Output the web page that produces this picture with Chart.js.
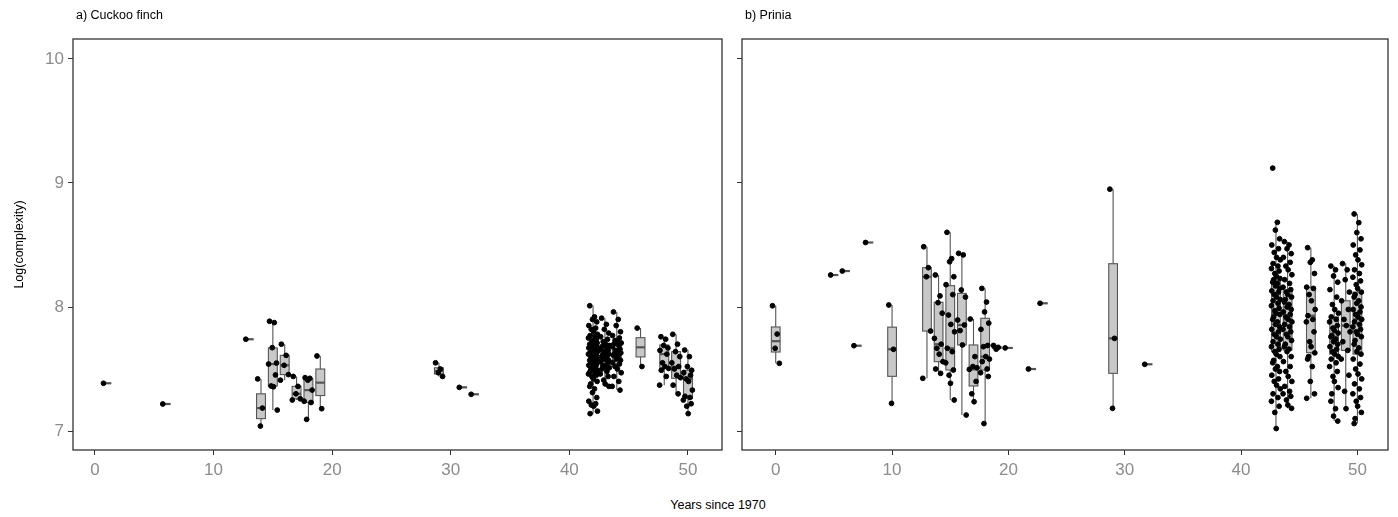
<!DOCTYPE html>
<html>
<head>
<meta charset="utf-8">
<script src="https://cdn.jsdelivr.net/npm/chart.js@4.4.1/dist/chart.umd.min.js"></script>
<style>
  body{margin:0;background:#fff;font-family:"Liberation Sans",Arial,sans-serif;}
  #wrap{position:relative;width:1398px;height:517px;}
  canvas{position:absolute;top:0;}
  .ptitle{position:absolute;top:8px;font-size:12.5px;color:#000;}
  #xtitle{position:absolute;top:498px;left:0;width:1436px;text-align:center;font-size:12.5px;color:#000;}
</style>
</head>
<body>
<div id="wrap">
  <canvas id="left" width="730" height="490" style="left:0"></canvas>
  <canvas id="right" width="676" height="490" style="left:722px"></canvas>
  <div class="ptitle" style="left:76px">a) Cuckoo finch</div>
  <div class="ptitle" style="left:745px">b) Prinia</div>
  <div id="xtitle">Years since 1970</div>
</div>
<script>
// ---- data: log(complexity) by years since 1970 ----
const Y_TICKS = [7, 8, 9, 10];
const X_TICKS = [0, 10, 20, 30, 40, 50];

// a) Cuckoo finch
const cfYears = [1, 6, 13, 14, 15, 16, 17, 18, 19, 29, 31, 32, 42, 43, 44, 46, 48, 49, 50];
const cfQ1  = [7.385, 7.218, 7.74, 7.10, 7.363, 7.455, 7.26, 7.23, 7.286, 7.46, 7.352, 7.296, 7.47, 7.50, 7.54, 7.5975, 7.505, 7.425, 7.263];
const cfMed = [7.385, 7.218, 7.74, 7.185, 7.54, 7.53, 7.30, 7.33, 7.39, 7.485, 7.352, 7.296, 7.57, 7.60, 7.63, 7.675, 7.62, 7.52, 7.42];
const cfQ3  = [7.385, 7.218, 7.74, 7.30, 7.67, 7.61, 7.36, 7.42, 7.50, 7.51, 7.352, 7.296, 7.68, 7.68, 7.71, 7.7525, 7.694, 7.64, 7.49];
const cfLo  = [7.385, 7.218, 7.74, 7.04, 7.17, 7.41, 7.25, 7.094, 7.18, 7.44, 7.352, 7.296, 7.14, 7.36, 7.33, 7.52, 7.37, 7.30, 7.137];
const cfHi  = [7.385, 7.218, 7.74, 7.42, 7.885, 7.70, 7.44, 7.43, 7.605, 7.55, 7.352, 7.296, 8.01, 7.91, 7.96, 7.83, 7.76, 7.78, 7.653];
const cfPoints = [
  [7.385], [7.218], [7.74],
  [7.42, 7.185, 7.04],
  [7.885, 7.874, 7.672, 7.548, 7.54, 7.452, 7.363, 7.357, 7.169],
  [7.70, 7.61, 7.53, 7.455, 7.41],
  [7.44, 7.36, 7.30, 7.26, 7.25],
  [7.43, 7.425, 7.41, 7.33, 7.24, 7.23, 7.094],
  [7.605, 7.18],
  [7.55, 7.50, 7.47, 7.44],
  [7.352], [7.296],
  [8.01, 7.92, 7.90, 7.88, 7.85, 7.83, 7.82, 7.80, 7.78, 7.77, 7.76, 7.75, 7.74, 7.73, 7.72, 7.71, 7.70, 7.70, 7.69, 7.68,
   7.68, 7.67, 7.66, 7.66, 7.65, 7.64, 7.63, 7.62, 7.62, 7.61, 7.60, 7.59, 7.58, 7.58, 7.57, 7.56, 7.55, 7.54, 7.53, 7.52,
   7.51, 7.50, 7.49, 7.48, 7.47, 7.46, 7.45, 7.44, 7.42, 7.40, 7.38, 7.36, 7.34, 7.31, 7.27, 7.24, 7.22, 7.21, 7.20, 7.16, 7.14],
  [7.91, 7.86, 7.82, 7.79, 7.76, 7.74, 7.72, 7.70, 7.69, 7.68, 7.67, 7.66, 7.65, 7.64, 7.63, 7.62, 7.61, 7.60, 7.59, 7.58,
   7.57, 7.56, 7.55, 7.53, 7.52, 7.51, 7.50, 7.48, 7.46, 7.44, 7.41, 7.38, 7.36],
  [7.96, 7.90, 7.85, 7.80, 7.77, 7.75, 7.73, 7.72, 7.71, 7.70, 7.69, 7.68, 7.66, 7.65, 7.64, 7.63, 7.62, 7.61, 7.60, 7.58,
   7.57, 7.55, 7.54, 7.52, 7.50, 7.47, 7.44, 7.40, 7.36, 7.33],
  [7.83, 7.52],
  [7.76, 7.74, 7.69, 7.67, 7.65, 7.62, 7.55, 7.52, 7.505, 7.49, 7.44, 7.37],
  [7.78, 7.70, 7.64, 7.60, 7.55, 7.52, 7.50, 7.45, 7.43, 7.37, 7.30],
  [7.653, 7.60, 7.52, 7.49, 7.47, 7.45, 7.42, 7.40, 7.33, 7.28, 7.27, 7.25, 7.22, 7.20, 7.14]
];

// b) Prinia
const prYears = [0, 5, 6, 7, 8, 10, 13, 14, 15, 16, 17, 18, 19, 20, 22, 23, 29, 32, 43, 44, 46, 48, 49, 50];
const prQ1  = [7.637, 8.258, 8.29, 7.688, 8.52, 7.441, 7.806, 7.559, 7.492, 7.694, 7.363, 7.492, 7.665, 7.67, 7.50, 8.03, 7.465, 7.538, 7.64, 7.653, 7.632, 7.62, 7.65, 7.62];
const prMed = [7.7245, 8.258, 8.29, 7.688, 8.52, 7.659, 8.244, 7.70, 7.667, 7.855, 7.497, 7.60, 7.675, 7.67, 7.50, 8.03, 7.747, 7.538, 7.95, 7.90, 7.93, 7.76, 7.85, 7.90];
const prQ3  = [7.839, 8.258, 8.29, 7.688, 8.52, 7.8375, 8.317, 8.038, 8.172, 8.11, 7.694, 7.909, 7.68, 7.67, 7.50, 8.03, 8.349, 7.538, 8.218, 8.137, 8.159, 7.92, 8.05, 8.12];
const prLo  = [7.546, 8.258, 8.29, 7.688, 8.52, 7.223, 7.425, 7.465, 7.25, 7.129, 7.236, 7.06, 7.66, 7.67, 7.50, 8.03, 7.183, 7.538, 7.02, 7.183, 7.264, 7.08, 7.18, 7.06];
const prHi  = [8.01, 8.258, 8.29, 7.688, 8.52, 8.016, 8.486, 8.258, 8.602, 8.433, 7.903, 8.15, 7.69, 7.67, 7.50, 8.03, 8.95, 7.538, 8.683, 8.527, 8.478, 8.33, 8.35, 8.75];
const prPoints = [
  [8.01, 7.782, 7.667, 7.546],
  [8.258], [8.29], [7.688], [8.52],
  [8.016, 7.659, 7.223],
  [8.486, 8.317, 8.244, 7.806, 7.425],
  [8.258, 8.089, 8.035, 7.95, 7.747, 7.70, 7.667, 7.62, 7.559, 7.50, 7.465],
  [8.602, 8.39, 8.365, 8.244, 8.18, 8.10, 7.935, 7.86, 7.80, 7.667, 7.64, 7.55, 7.492, 7.45, 7.385, 7.25],
  [8.433, 8.42, 8.137, 8.08, 7.895, 7.855, 7.81, 7.694, 7.129],
  [7.903, 7.60, 7.52, 7.51, 7.497, 7.40, 7.30, 7.236],
  [8.15, 8.04, 7.96, 7.87, 7.82, 7.69, 7.68, 7.60, 7.58, 7.56, 7.50, 7.47, 7.44, 7.06],
  [7.69, 7.675, 7.66],
  [7.67], [7.50], [8.03],
  [8.95, 7.747, 7.183],
  [7.538],
  [9.12, 8.683, 8.62, 8.55, 8.50, 8.47, 8.44, 8.40, 8.38, 8.35, 8.33, 8.31, 8.29, 8.27, 8.25, 8.23, 8.22, 8.20, 8.19, 8.17,
   8.15, 8.13, 8.12, 8.10, 8.08, 8.06, 8.05, 8.03, 8.01, 7.99, 7.97, 7.95, 7.94, 7.92, 7.90, 7.88, 7.86, 7.84, 7.82, 7.80,
   7.78, 7.76, 7.74, 7.72, 7.70, 7.68, 7.66, 7.64, 7.62, 7.60, 7.57, 7.55, 7.52, 7.50, 7.48, 7.45, 7.42, 7.40, 7.37, 7.34,
   7.30, 7.27, 7.24, 7.20, 7.15, 7.02],
  [8.527, 8.50, 8.47, 8.43, 8.40, 8.36, 8.33, 8.30, 8.26, 8.22, 8.19, 8.16, 8.14, 8.12, 8.10, 8.08, 8.06, 8.04, 8.02, 8.00,
   7.98, 7.96, 7.94, 7.92, 7.90, 7.88, 7.86, 7.84, 7.82, 7.80, 7.78, 7.76, 7.73, 7.70, 7.68, 7.66, 7.64, 7.60, 7.56, 7.52,
   7.48, 7.44, 7.40, 7.36, 7.32, 7.30, 7.28, 7.25, 7.21, 7.183],
  [8.478, 8.38, 8.36, 8.27, 8.16, 8.15, 8.10, 8.05, 7.98, 7.93, 7.90, 7.88, 7.80, 7.72, 7.68, 7.63, 7.60, 7.58, 7.52, 7.40, 7.30, 7.264],
  [8.33, 8.30, 8.25, 8.20, 8.14, 8.08, 8.02, 7.98, 7.95, 7.92, 7.90, 7.88, 7.85, 7.83, 7.81, 7.79, 7.77, 7.76, 7.74, 7.72,
   7.70, 7.68, 7.66, 7.64, 7.62, 7.60, 7.58, 7.55, 7.52, 7.48, 7.44, 7.40, 7.35, 7.30, 7.24, 7.18, 7.12, 7.08],
  [8.35, 8.30, 8.22, 8.12, 8.05, 7.98, 7.90, 7.85, 7.80, 7.72, 7.65, 7.58, 7.45, 7.32, 7.18],
  [8.75, 8.68, 8.60, 8.55, 8.50, 8.46, 8.42, 8.38, 8.34, 8.30, 8.27, 8.24, 8.21, 8.18, 8.15, 8.12, 8.10, 8.08, 8.05, 8.03,
   8.00, 7.98, 7.96, 7.94, 7.92, 7.90, 7.88, 7.86, 7.84, 7.82, 7.80, 7.78, 7.76, 7.73, 7.70, 7.67, 7.64, 7.62, 7.58, 7.54,
   7.50, 7.46, 7.42, 7.38, 7.34, 7.30, 7.27, 7.24, 7.20, 7.15, 7.10, 7.06]
];

// fixed horizontal jitter (in years) for the dots, cycled per group
const JITTER = [-0.28, 0.12, -0.05, 0.31, -0.36, 0.22, -0.15, 0.05, 0.37, -0.25, 0.17, -0.39, 0.27, -0.1, 0.02, 0.34, -0.2];
const BOX_HALF = 0.375;

const FONT = '"Liberation Sans", Arial, sans-serif';
const TICK_GRAY = '#8c8c8c';

// boxes + whiskers drawn under the dots, through the chart scales
const boxPlugin = {
  id: 'boxes',
  beforeDatasetsDraw(chart){
    const s = chart.options.plugins.boxes; if(!s) return;
    const {ctx, scales:{x, y}} = chart;
    ctx.save();
    ctx.strokeStyle = '#555'; ctx.lineWidth = 1.1;
    s.years.forEach((yr, i)=>{
      const cx = x.getPixelForValue(yr);
      const l = x.getPixelForValue(yr - BOX_HALF), r = x.getPixelForValue(yr + BOX_HALF);
      const yq1 = y.getPixelForValue(s.q1[i]), yq3 = y.getPixelForValue(s.q3[i]);
      ctx.beginPath();
      ctx.moveTo(cx, y.getPixelForValue(s.hi[i])); ctx.lineTo(cx, yq3);
      ctx.moveTo(cx, yq1); ctx.lineTo(cx, y.getPixelForValue(s.lo[i]));
      ctx.stroke();
      ctx.fillStyle = '#c8c8c8';
      ctx.fillRect(l, yq3, r - l, yq1 - yq3);
      ctx.strokeRect(l, yq3, r - l, yq1 - yq3);
      const ym = y.getPixelForValue(s.med[i]);
      ctx.lineWidth = 2.2; ctx.beginPath(); ctx.moveTo(l, ym); ctx.lineTo(r, ym); ctx.stroke();
      ctx.lineWidth = 1.1;
    });
    ctx.restore();
  }
};

// panel frame
const framePlugin = {
  id: 'frame',
  afterDraw(chart){
    const {ctx, chartArea:a} = chart;
    ctx.save(); ctx.strokeStyle = '#333'; ctx.lineWidth = 1.3;
    ctx.strokeRect(a.left, a.top, a.right - a.left, a.bottom - a.top);
    ctx.restore();
  }
};

function dots(years, points){
  const out = [];
  points.forEach((grp, i)=> grp.forEach((v, j)=> out.push({x: years[i] + JITTER[j % JITTER.length], y: v})));
  return out;
}

function makePanel(id, o){
  return new Chart(document.getElementById(id), {
    type: 'scatter',
    data: { datasets: [{ data: dots(o.years, o.points), backgroundColor: '#000', borderColor: '#000', pointRadius: 2.4, pointHoverRadius: 2.4 }] },
    options: {
      responsive: false, animation: false, devicePixelRatio: 1,
      layout: { padding: { top: 39, right: o.padRight, left: 0, bottom: 0 } },
      plugins: {
        legend: { display: false }, tooltip: { enabled: false },
        boxes: { years: o.years, q1: o.q1, med: o.med, q3: o.q3, lo: o.lo, hi: o.hi }
      },
      scales: {
        x: {
          type: 'linear', min: o.xmin, max: o.xmax,
          afterBuildTicks: s => { s.ticks = X_TICKS.map(v => ({ value: v })); },
          afterFit: s => { s.height = 40; },
          grid: { drawOnChartArea: false, drawTicks: true, tickLength: 5, color: '#333' },
          border: { display: false },
          ticks: { color: TICK_GRAY, font: { family: FONT, size: 17 }, padding: 5, maxRotation: 0 }
        },
        y: {
          min: 6.847, max: 10.161,
          afterBuildTicks: s => { s.ticks = Y_TICKS.map(v => ({ value: v })); },
          afterFit: s => { s.width = o.yWidth; },
          grid: { drawOnChartArea: false, drawTicks: true, tickLength: 5, color: '#333' },
          border: { display: false },
          ticks: { color: TICK_GRAY, font: { family: FONT, size: 17 }, padding: 4, callback: v => o.yLabels ? String(v) : '' },
          title: { display: o.yLabels, text: 'Log(complexity)', color: '#000', font: { family: FONT, size: 12.5 }, padding: { top: 12, bottom: 0 } }
        }
      }
    },
    plugins: [boxPlugin, framePlugin]
  });
}

makePanel('left', { years: cfYears, points: cfPoints, q1: cfQ1, med: cfMed, q3: cfQ3, lo: cfLo, hi: cfHi,
  xmin: -1.85, xmax: 52.87, yWidth: 73, padRight: 8, yLabels: true });
makePanel('right', { years: prYears, points: prPoints, q1: prQ1, med: prMed, q3: prQ3, lo: prLo, hi: prHi,
  xmin: -2.9, xmax: 52.63, yWidth: 20, padRight: 10, yLabels: false });
</script>
</body>
</html>
